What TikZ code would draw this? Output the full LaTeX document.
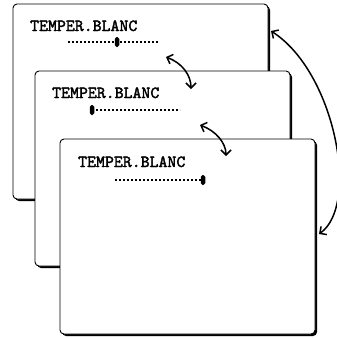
\documentclass[tikz,border=0pt]{standalone}
\usepackage{fontspec}
\newfontfamily\panelfont{lmmono10-regular.otf}[FakeBold=2.2]
\usetikzlibrary{shadows,arrows.meta}
\begin{document}
\begin{tikzpicture}[x=1pt,y=-1pt,
  panel/.style={draw, fill=white, rounded corners=4pt, line width=0.9pt,
    minimum width=255pt, minimum height=195pt, inner sep=0pt,
    drop shadow={shadow xshift=2pt, shadow yshift=-2pt, fill=black, opacity=1}},
  lbl/.style={anchor=base west, inner sep=0pt, font=\fontsize{17}{18}\panelfont},
  track/.style={line width=1.5pt, dash pattern=on 2.4pt off 1.6pt},
  thumb/.style={fill=black, rounded corners=1.8pt, minimum width=4.5pt, minimum height=10pt, inner sep=0pt},
  swap/.style={line width=1.5pt, {Straight Barb[length=5pt,width=10pt]}-{Straight Barb[length=5pt,width=10pt]}}
]
\useasboundingbox (0,0) rectangle (337,338);
% panels
\node[panel] (p1) at (140.5,101.5) {};
\node[panel] (p2) at (162.5,168.5) {};
\node[panel] (p3) at (187.5,236.5) {};
% panel 1 content
\node[lbl] (t1) at (30,31) {TEMPER.BLANC};
\coordinate (s1a) at (68,42);
\coordinate (s1b) at (159,42);
\draw[track] (s1a) -- (s1b);
\node[thumb] (k1) at (117,42) {};
% panel 2 content
\node[lbl] (t2) at (52,98) {TEMPER.BLANC};
\coordinate (s2a) at (92,110);
\coordinate (s2b) at (180,110);
\draw[track] (s2a) -- (s2b);
\node[thumb] (k2) at (92,110) {};
% panel 3 content
\node[lbl] (t3) at (78,167) {TEMPER.BLANC};
\coordinate (s3a) at (115,180);
\coordinate (s3b) at (203,180);
\draw[track] (s3a) -- (s3b);
\node[thumb] (k3) at (203,180) {};
% arrows
\coordinate (a1s) at (166,57);
\coordinate (a1e) at (191,89);
\draw[swap] (a1s) .. controls (182,63) and (191,75) .. (a1e);
\coordinate (a2s) at (200,125);
\coordinate (a2e) at (226,156);
\draw[swap] (a2s) .. controls (216,131) and (226,143) .. (a2e);
\coordinate (b1) at (271,31);
\coordinate (b2) at (319,234);
\draw[swap] (b1) .. controls (335,72) and (360,205) .. (b2);
\end{tikzpicture}
\end{document}
